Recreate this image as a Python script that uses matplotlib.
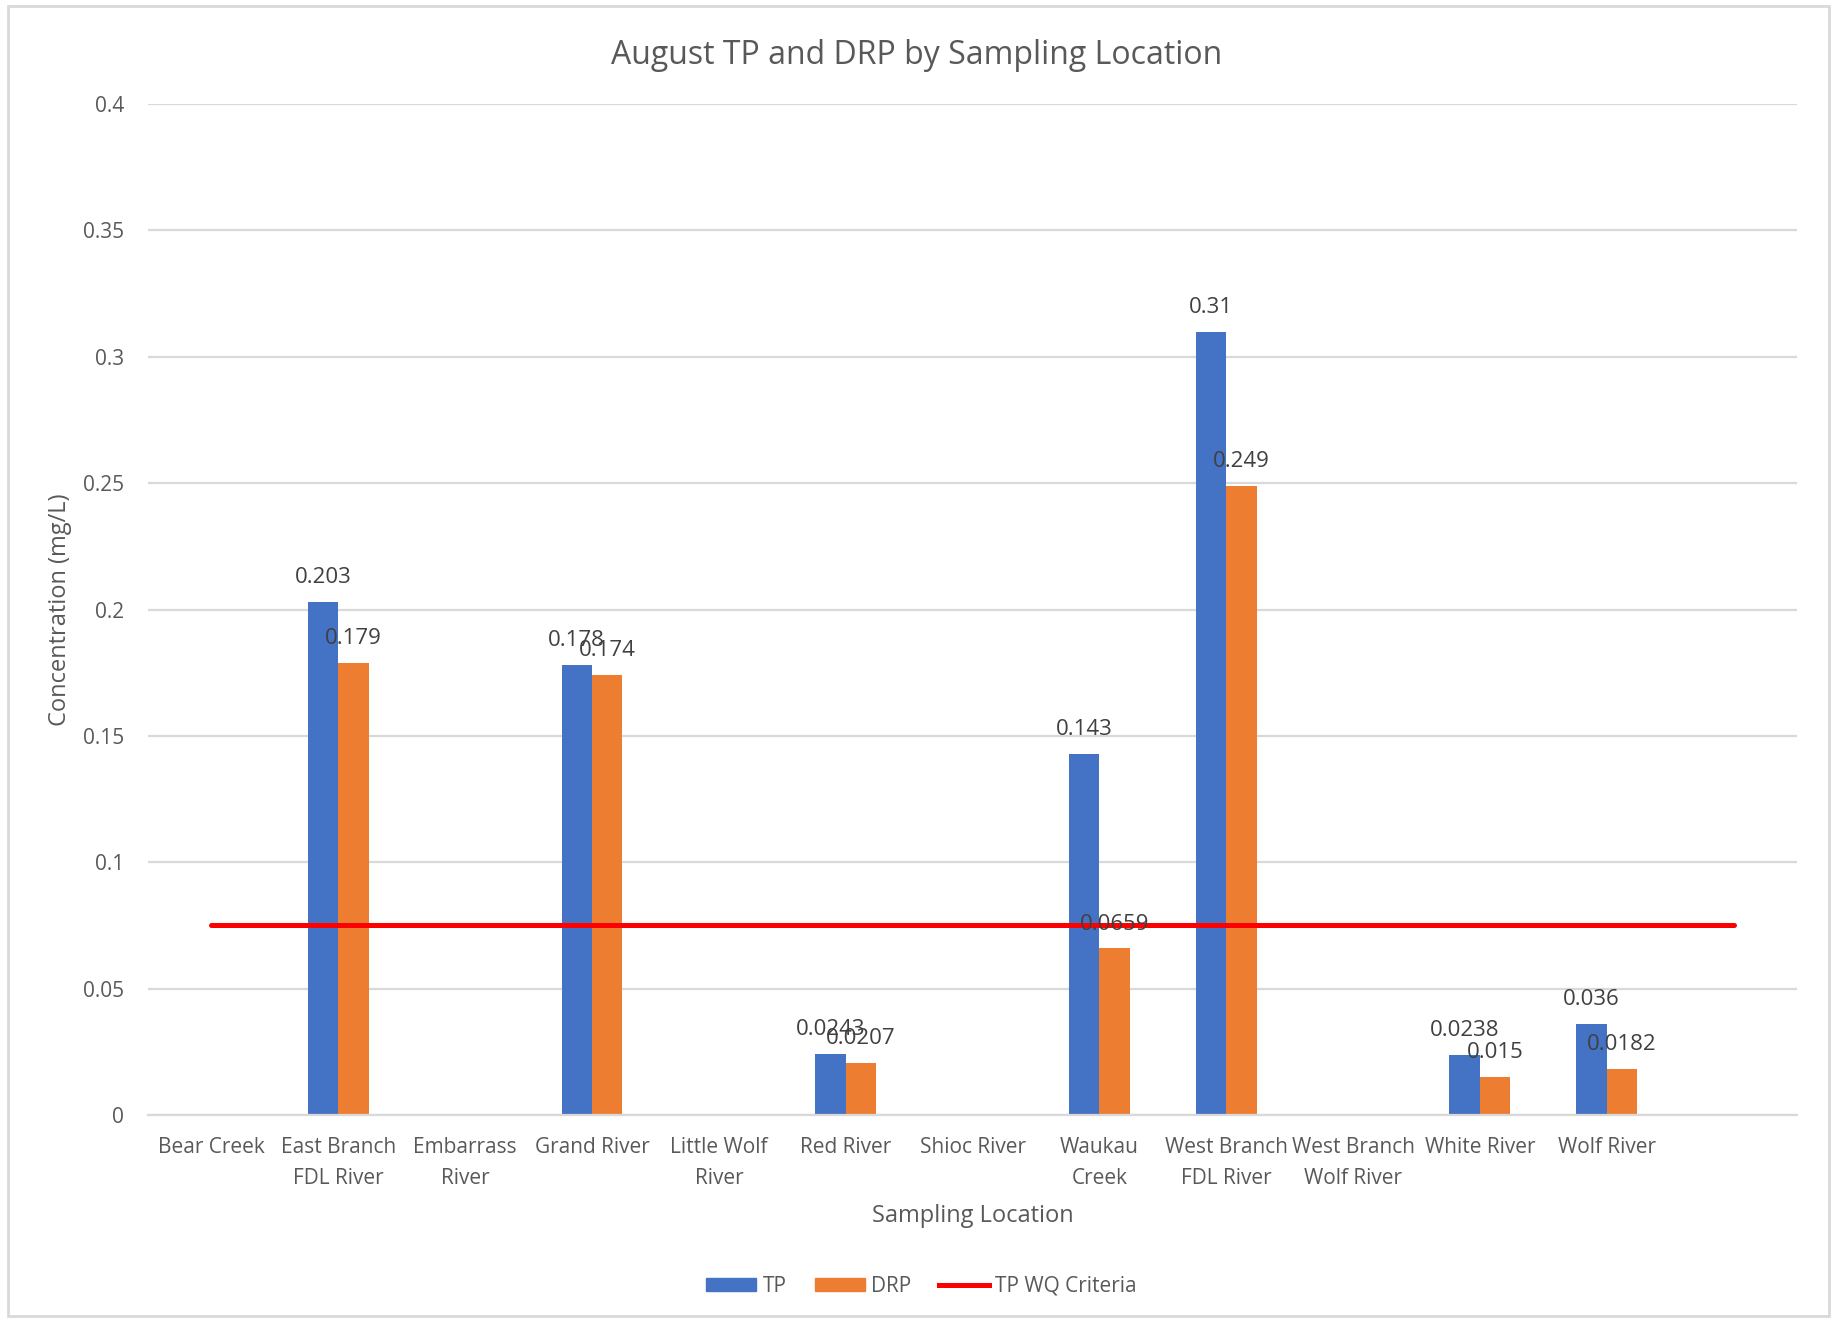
import numpy as np
import matplotlib.pyplot as plt
from matplotlib.patches import Rectangle, Patch
from matplotlib.lines import Line2D

plt.rcParams['font.family'] = ['Open Sans', 'DejaVu Sans']

locations = ['Bear Creek', 'East Branch\nFDL River', 'Embarrass\nRiver', 'Grand River',
             'Little Wolf\nRiver', 'Red River', 'Shioc River', 'Waukau\nCreek',
             'West Branch\nFDL River', 'West Branch\nWolf River', 'White River', 'Wolf River', '']
tp = [np.nan, 0.203, np.nan, 0.178, np.nan, 0.0243, np.nan, 0.143, 0.31, np.nan, 0.0238, 0.036, np.nan]
drp = [np.nan, 0.179, np.nan, 0.174, np.nan, 0.0207, np.nan, 0.0659, 0.249, np.nan, 0.015, 0.0182, np.nan]
tp_criteria = [0.075, 0.075, 0.075, 0.075, 0.075, 0.075, 0.075, 0.075, 0.075, 0.075, 0.075, 0.075, 0.075]

blue = '#4472C4'
orange = '#ED7D31'
red = '#FF0000'
text_grey = '#595959'
grid_grey = '#D9D9D9'

fig = plt.figure(figsize=(18.36, 13.18), dpi=100)
ax = fig.add_axes([0.0806, 0.154, 0.8982, 0.767])

x = np.arange(len(locations))
w = 0.24
ax.bar(x - w / 2, tp, w, color=blue, zorder=2)
ax.bar(x + w / 2, drp, w, color=orange, zorder=2)
ax.plot(x, tp_criteria, color=red, lw=3.6, solid_capstyle='round', zorder=3)

# value labels above each bar
for xi, v in zip(x, tp):
    if not np.isnan(v):
        ax.annotate(f'{v:g}', (xi - w / 2, v), xytext=(0, 17.5), textcoords='offset points',
                    ha='center', va='center', fontsize=16, color='#404040', zorder=4)
for xi, v in zip(x, drp):
    if not np.isnan(v):
        ax.annotate(f'{v:g}', (xi + w / 2, v), xytext=(0, 17.5), textcoords='offset points',
                    ha='center', va='center', fontsize=16, color='#404040', zorder=4)

ax.set_xlim(-0.5, len(locations) - 0.5)
ax.set_ylim(0, 0.4)
ax.set_yticks([0, 0.05, 0.1, 0.15, 0.2, 0.25, 0.3, 0.35, 0.4])
ax.set_yticklabels(['0', '0.05', '0.1', '0.15', '0.2', '0.25', '0.3', '0.35', '0.4'])
ax.set_xticks(x)
ax.set_xticklabels(locations, linespacing=1.6)
ax.tick_params(axis='both', length=0, labelsize=15, labelcolor=text_grey)
ax.tick_params(axis='y', pad=17)
ax.tick_params(axis='x', pad=16)
ax.grid(axis='y', color=grid_grey, lw=1.6, zorder=0)
for side in ['top', 'right', 'left']:
    ax.spines[side].set_visible(False)
ax.spines['bottom'].set_color(grid_grey)
ax.spines['bottom'].set_linewidth(1.6)

ax.set_ylabel('Concentration (mg/L)', fontsize=17, color=text_grey)
ax.yaxis.set_label_coords(-0.046, 0.5)
ax.set_xlabel('Sampling Location', fontsize=17, color=text_grey)
ax.xaxis.set_label_coords(0.5, -0.088)

fig.text(0.4995, 0.958, 'August TP and DRP by Sampling Location', ha='center', va='center',
         fontsize=23, color=text_grey)

handles = [Patch(color=blue), Patch(color=orange), Line2D([0], [0], color=red, lw=3.6)]
fig.legend(handles, ['TP', 'DRP', 'TP WQ Criteria'], loc='center', bbox_to_anchor=(0.502, 0.024),
           ncol=3, frameon=False, fontsize=15, labelcolor=text_grey, handlelength=2.4,
           handleheight=0.6, handletextpad=0.3, columnspacing=1.35)

fig.patches.append(Rectangle((0.0045, 0.0015), 0.9915, 0.994, transform=fig.transFigure,
                             fill=False, edgecolor=grid_grey, lw=2))

fig.savefig('out.png', dpi=100, facecolor='white')
